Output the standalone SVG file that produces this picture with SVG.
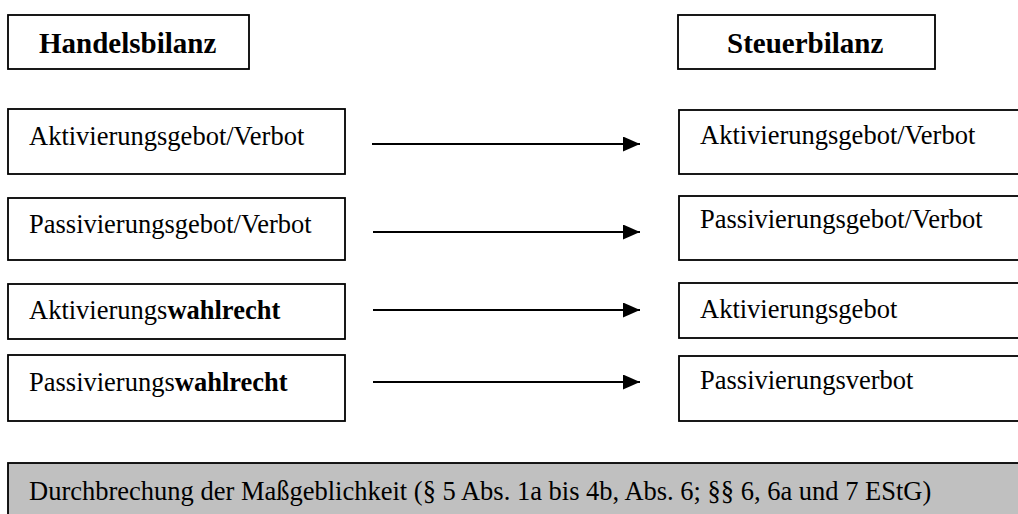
<svg xmlns="http://www.w3.org/2000/svg" width="1018" height="514" viewBox="0 0 1018 514">
<style>
.box{fill:#fff;stroke:#000;stroke-width:1.8}
.gray{fill:#c0c0c0;stroke:#000;stroke-width:1.8}
.t{font-family:"Liberation Serif","Times New Roman",serif;font-size:26.5px;fill:#000}
.h{font-family:"Liberation Serif","Times New Roman",serif;font-size:29px;font-weight:bold;fill:#000}
.b{font-weight:bold}
.c{stroke:#000;stroke-width:2.2;fill:none;marker-end:url(#ah)}
</style>
<defs>
<marker id="ah" markerWidth="17" markerHeight="15" refX="17" refY="7.5" orient="auto" markerUnits="userSpaceOnUse">
<path d="M0,0 L17,7.5 L0,15 Z" fill="#000"/>
</marker>
</defs>
<rect width="1018" height="514" fill="#fff"/>
<g id="handelsbilanz"><rect class="box" x="8" y="15" width="241" height="54"/><text class="h" x="39" y="53">Handelsbilanz</text></g>
<g id="steuerbilanz"><rect class="box" x="678" y="15" width="257" height="54"/><text class="h" x="727" y="53">Steuerbilanz</text></g>
<g id="hb1"><rect class="box" x="8" y="109" width="337" height="65"/><text class="t" x="29" y="145">Aktivierungsgebot/Verbot</text></g>
<g id="hb2"><rect class="box" x="8" y="198" width="337" height="62"/><text class="t" x="29" y="233">Passivierungsgebot/Verbot</text></g>
<g id="hb3"><rect class="box" x="8" y="284" width="337" height="55"/><text class="t" x="29" y="319">Aktivierungs<tspan class="b">wahlrecht</tspan></text></g>
<g id="hb4"><rect class="box" x="8" y="355" width="337" height="66"/><text class="t" x="29" y="391">Passivierungs<tspan class="b">wahlrecht</tspan></text></g>
<g id="sb1"><rect class="box" x="679" y="110" width="360" height="64"/><text class="t" x="700" y="144">Aktivierungsgebot/Verbot</text></g>
<g id="sb2"><rect class="box" x="679" y="196" width="360" height="64"/><text class="t" x="700" y="228">Passivierungsgebot/Verbot</text></g>
<g id="sb3"><rect class="box" x="679" y="283" width="360" height="55"/><text class="t" x="700" y="318">Aktivierungsgebot</text></g>
<g id="sb4"><rect class="box" x="679" y="356" width="360" height="65"/><text class="t" x="700" y="389">Passivierungsverbot</text></g>
<g id="connectors">
<line class="c" x1="372" y1="144" x2="640" y2="144"/>
<line class="c" x1="373" y1="232" x2="640" y2="232"/>
<line class="c" x1="373" y1="310" x2="640" y2="310"/>
<line class="c" x1="373" y1="382" x2="640" y2="382"/>
</g>
<g id="massgeblichkeit"><rect class="gray" x="8" y="463" width="1030" height="70"/><text class="t" x="29" y="500">Durchbrechung der Maßgeblichkeit (§ 5 Abs. 1a bis 4b, Abs. 6; §§ 6, 6a und 7 EStG)</text></g>
</svg>
